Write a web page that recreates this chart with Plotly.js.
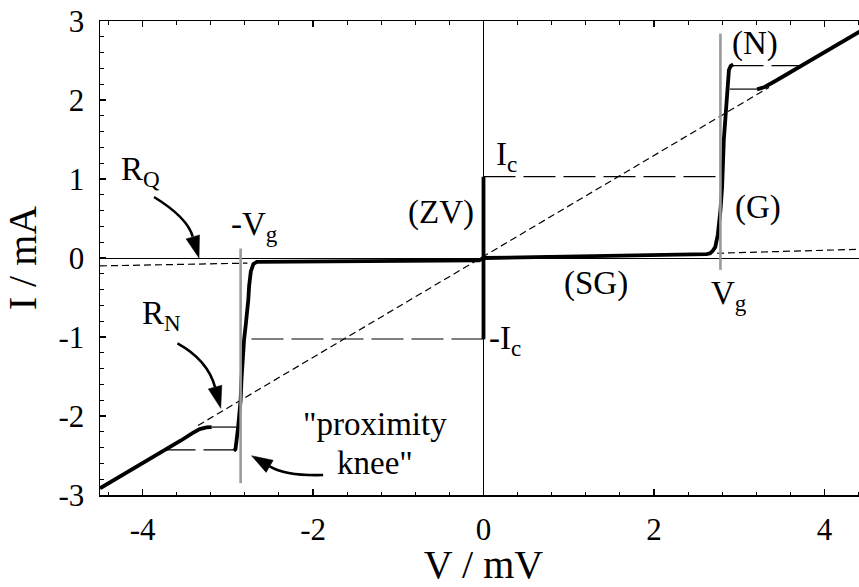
<!DOCTYPE html>
<html>
<head>
<meta charset="utf-8">
<script src="https://cdn.plot.ly/plotly-3.0.1.min.js"></script>
<style>
  html, body { margin: 0; padding: 0; background: #fff; overflow: hidden; }
  #chart { width: 867px; height: 587px; }
</style>
</head>
<body>
<div id="chart"></div>
<script>
// Current-voltage characteristic of a superconducting tunnel junction (V in mV, I in mA)

// Positive sub-gap branch and gap rise
const gapPosV = [0, 0.5, 1.0, 1.5, 2.0, 2.4, 2.55, 2.62, 2.66, 2.69, 2.72, 2.75, 2.78, 2.80, 2.82, 2.85, 2.88, 2.90, 2.93];
const gapPosI = [0, 0.010, 0.018, 0.025, 0.032, 0.040, 0.045, 0.050, 0.060, 0.090, 0.140, 0.300, 0.600, 0.900, 1.500, 2.000, 2.380, 2.430, 2.450];

// Negative sub-gap branch and gap rise
const gapNegV = [0, -0.05, -0.5, -1.0, -1.5, -2.0, -2.4, -2.6, -2.66, -2.70, -2.73, -2.75, -2.76, -2.79, -2.81, -2.84, -2.85, -2.88, -2.91, -2.93];
const gapNegI = [0, -0.030, -0.033, -0.035, -0.038, -0.042, -0.045, -0.047, -0.050, -0.075, -0.170, -0.350, -0.530, -0.850, -1.040, -1.540, -1.800, -2.150, -2.420, -2.440];

// Normal-state branches above the gap
const normPosV = [3.21, 3.30, 3.44, 3.58, 3.72, 4.00, 4.41, 4.50];
const normPosI = [2.135, 2.165, 2.250, 2.340, 2.430, 2.606, 2.865, 2.920];
const normNegV = [-4.50, -4.00, -3.72, -3.55, -3.42, -3.33, -3.25, -3.19];
const normNegI = [-2.915, -2.600, -2.430, -2.310, -2.220, -2.165, -2.145, -2.140];

// Zero-voltage (Josephson) branch
const zvV = [0, 0];
const zvI = [-1.03, 1.03];

// Critical current levels, drawn out to the gap voltage
const icPosV = [0, 2.78];
const icPosI = [1.03, 1.03];
const icNegV = [0, -2.78];
const icNegI = [-1.025, -1.025];

// Switching steps at the top of the gap rise
const stepHiPosV = [2.91, 3.72];
const stepHiPosI = [2.435, 2.435];
const stepHiNegV = [-2.91, -3.72];
const stepHiNegI = [-2.43, -2.43];
const stepLoPosV = [2.89, 3.21];
const stepLoPosI = [2.138, 2.138];
const stepLoNegV = [-2.90, -3.19];
const stepLoNegI = [-2.14, -2.14];

// Normal-resistance line R_N through the origin
const rnV = [-3.35, 3.35];
const rnI = [-2.12, 2.16];

// Quasiparticle-resistance line R_Q outside the gap
const rqNegV = [-4.5, -2.77];
const rqNegI = [-0.100, -0.065];
const rqPosV = [2.74, 4.5];
const rqPosI = [0.060, 0.113];

// Gap voltage markers
const vgPosV = [2.78, 2.78];
const vgPosI = [-0.15, 2.84];
const vgNegV = [-2.85, -2.85];
const vgNegI = [0.12, -2.85];

// Tick labels
const xTickVals = [-4, -2, 0, 2, 4];
const xTickText = ['-4', '-2', '0', '2', '4'];
const yTickVals = [-3, -2, -1, 0, 1, 2, 3];
const yTickText = ['-3', '-2', '-1', '0', '1', '2', '3'];

const SERIF = "'Liberation Serif', 'Times New Roman', serif";
const BLACK = '#000';

function line(x, y, width, dash, color) {
  return {
    x: x, y: y, type: 'scatter', mode: 'lines',
    line: { color: color || BLACK, width: width, dash: dash || 'solid' },
    hoverinfo: 'skip', showlegend: false
  };
}

const SHORT = '7px,4px';
const LONG = '32px,8px';

const traces = [
  line(rqNegV, rqNegI, 1.2, SHORT),
  line(rqPosV, rqPosI, 1.2, SHORT),
  line(rnV, rnI, 1.2, SHORT),
  line(icPosV, icPosI, 1.2, LONG),
  line(icNegV, icNegI, 1.2, LONG),
  line(stepHiPosV, stepHiPosI, 1.2, LONG),
  line(stepHiNegV, stepHiNegI, 1.2, LONG),
  line(stepLoPosV, stepLoPosI, 1.2),
  line(stepLoNegV, stepLoNegI, 1.2),
  line(gapPosV, gapPosI, 3.8),
  line(gapNegV, gapNegI, 3.8),
  line(normPosV, normPosI, 3.8),
  line(normNegV, normNegI, 3.8),
  line(zvV, zvI, 3.8),
  line(vgPosV, vgPosI, 2.6, 'solid', '#9a9a9a'),
  line(vgNegV, vgNegI, 2.6, 'solid', '#9a9a9a')
];

// Curved pointer arrows: tip in data units, path offsets in pixels (x right, y up)
function curvedArrow(tipX, tipY, tail, ctrl, base, headLen, headHalf) {
  const dx = -base[0], dy = -base[1];
  const n = Math.hypot(dx, dy);
  const ux = dx / n, uy = dy / n;
  const bx = -ux * headLen, by = -uy * headLen;
  const px = -uy * headHalf, py = ux * headHalf;
  const common = {
    xref: 'x', yref: 'y', xsizemode: 'pixel', ysizemode: 'pixel',
    xanchor: tipX, yanchor: tipY, layer: 'above'
  };
  return [
    Object.assign({
      type: 'path',
      path: `M${tail[0]},${tail[1]} Q${ctrl[0]},${ctrl[1]} ${base[0]},${base[1]}`,
      line: { color: BLACK, width: 2.6 }
    }, common),
    Object.assign({
      type: 'path',
      path: `M0,0 L${bx + px},${by + py} L${bx - px},${by - py} Z`,
      line: { color: BLACK, width: 0.5 }, fillcolor: BLACK
    }, common)
  ];
}

const shapes = [].concat(
  curvedArrow(-3.338, 0.0, [-45, 61], [-11.6, 40.5], [-6.3, 21.3], 22, 7),
  curvedArrow(-3.083, -1.903, [-43.3, 65], [-13, 48.3], [-5.7, 21.2], 22, 7),
  curvedArrow(-2.722, -2.503, [71.6, -19.3], [34.8, -20.4], [18.1, -10.6], 21, 7)
);

function label(text, x, y, xanchor) {
  return {
    text: text, x: x, y: y, xref: 'x', yref: 'y',
    xanchor: xanchor || 'left', yanchor: 'middle', showarrow: false,
    font: { family: SERIF, size: 33, color: BLACK }
  };
}

const annotations = [
  label('R<sub>Q</sub>', -4.28, 1.10),
  label('-V<sub>g</sub>', -2.99, 0.405),
  label('I<sub>c</sub>', 0.123, 1.29),
  label('-I<sub>c</sub>', 0.04, -1.04),
  label('V<sub>g</sub>', 2.65, -0.48),
  label('R<sub>N</sub>', -4.03, -0.73),
  label('(ZV)', -0.5, 0.57, 'center'),
  label('(SG)', 1.32, -0.32, 'center'),
  label('(N)', 3.19, 2.72, 'center'),
  label('(G)', 3.22, 0.645, 'center'),
  label('"proximity', -1.275, -2.10, 'center'),
  label('knee"', -1.275, -2.595, 'center')
];

const axisCommon = {
  showgrid: false, showline: true, linecolor: BLACK, linewidth: 1.5,
  mirror: 'ticks', ticks: 'inside', ticklen: 6, tickwidth: 1.3, tickcolor: BLACK,
  zeroline: true, zerolinecolor: BLACK, zerolinewidth: 1,
  tickmode: 'array', tickfont: { family: SERIF, size: 31, color: BLACK },
  fixedrange: true
};

const layout = {
  width: 867, height: 587,
  margin: { l: 100, r: 0, t: 21, b: 92 },
  paper_bgcolor: '#fff', plot_bgcolor: '#fff',
  showlegend: false,
  xaxis: Object.assign({}, axisCommon, {
    range: [-4.5, 4.5], tickvals: xTickVals, ticktext: xTickText,
    minor: { tickmode: 'linear', tick0: 0, dtick: 0.4, ticks: 'inside', ticklen: 3.5, tickwidth: 1, tickcolor: BLACK },
    ticklabelstandoff: 6,
    title: { text: 'V / mV', font: { family: SERIF, size: 40, color: BLACK }, standoff: 18 }
  }),
  yaxis: Object.assign({}, axisCommon, {
    range: [-3, 3], tickvals: yTickVals, ticktext: yTickText,
    minor: { tickmode: 'linear', tick0: 0, dtick: 0.2, ticks: 'inside', ticklen: 3.5, tickwidth: 1, tickcolor: BLACK },
    ticklabelstandoff: 8,
    title: { text: 'I / mA', font: { family: SERIF, size: 40, color: BLACK }, standoff: 10 }
  }),
  shapes: shapes,
  annotations: annotations
};

Plotly.newPlot('chart', traces, layout, { staticPlot: true, displayModeBar: false });
</script>
</body>
</html>
